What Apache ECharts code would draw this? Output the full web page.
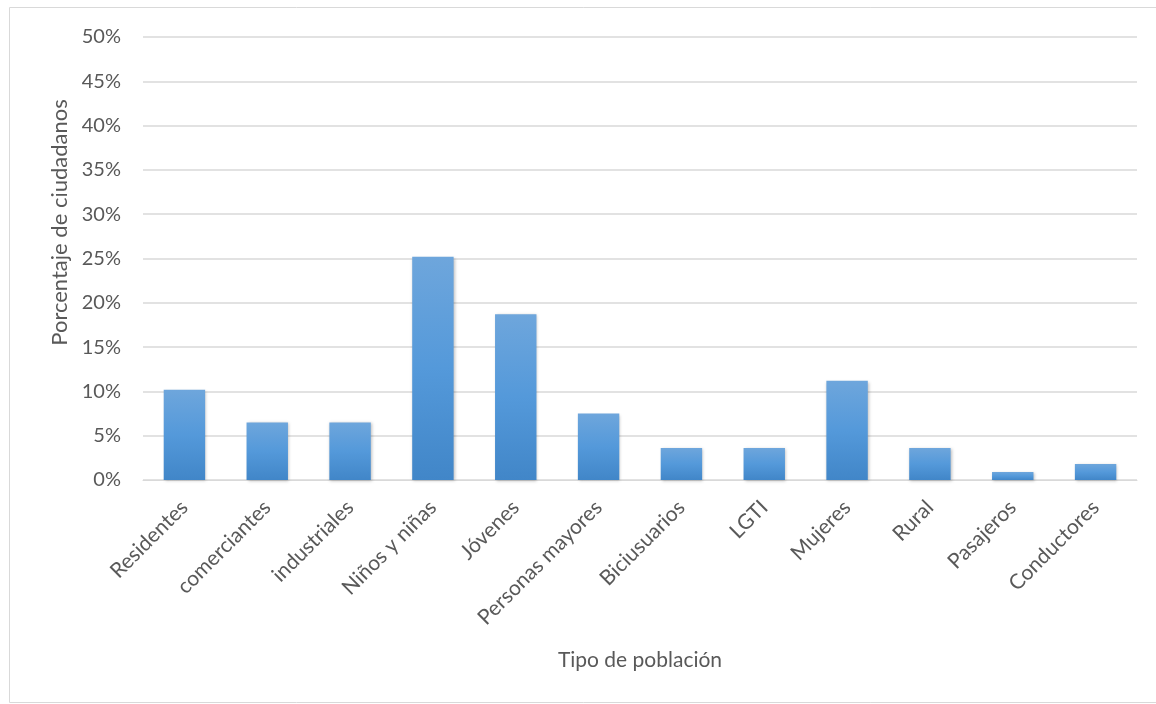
<!DOCTYPE html>
<html>
<head>
<meta charset="utf-8">
<script src="https://cdn.jsdelivr.net/npm/echarts@6/dist/echarts.min.js"></script>
<style>html,body{margin:0;padding:0;background:#fff}#c{width:1156px;height:704px}</style>
</head>
<body>
<div id="c"></div>
<script>
const categories = ["Residentes","comerciantes","industriales","Niños y niñas","Jóvenes","Personas mayores","Biciusuarios","LGTI","Mujeres","Rural","Pasajeros","Conductores"];
const values = [10.2, 6.5, 6.5, 25.2, 18.7, 7.5, 3.6, 3.6, 11.2, 3.6, 0.9, 1.8];
const yTicks = [0, 5, 10, 15, 20, 25, 30, 35, 40, 45, 50];

const font = "Lato, sans-serif";
const txt = '#595959';
const chart = echarts.init(document.getElementById('c'));
chart.setOption({
  animation: false,
  graphic: [{
    type: 'rect', shape: {x: 9.5, y: 7.5, width: 1160, height: 695},
    style: {fill: 'none', stroke: '#d9d9d9', lineWidth: 1}, silent: true
  }],
  grid: {left: 143, right: 19, top: 37, bottom: 224},
  xAxis: {
    type: 'category', data: categories,
    name: 'Tipo de población', nameLocation: 'middle', nameGap: 170,
    nameTextStyle: {color: txt, fontFamily: font, fontSize: 21},
    axisLine: {show: true, lineStyle: {color: '#d9d9d9', width: 1}},
    axisTick: {show: false},
    axisLabel: {rotate: 45, color: txt, fontFamily: font, fontSize: 21, margin: 24, interval: 0}
  },
  yAxis: {
    type: 'value', min: yTicks[0], max: yTicks[yTicks.length - 1], interval: 5,
    name: 'Porcentaje de ciudadanos', nameLocation: 'middle', nameGap: 72,
    nameTextStyle: {color: txt, fontFamily: font, fontSize: 22, padding: [0, 0, 0, 72]},
    axisLine: {show: false}, axisTick: {show: false},
    splitLine: {lineStyle: {color: '#d9d9d9', width: 1.5}},
    axisLabel: {color: txt, fontFamily: font, fontSize: 20, margin: 22, formatter: v => v + '%'}
  },
  series: [{
    type: 'bar', data: values, barWidth: '50%',
    itemStyle: {
      color: new echarts.graphic.LinearGradient(0, 0, 0, 1, [
        {offset: 0, color: '#6ea6dc'},
        {offset: 0.5, color: '#5499da'},
        {offset: 1, color: '#4186c8'}
      ]),
      shadowColor: 'rgba(0,0,0,0.25)', shadowBlur: 3, shadowOffsetX: 1, shadowOffsetY: 1
    }
  }]
});
</script>
</body>
</html>
